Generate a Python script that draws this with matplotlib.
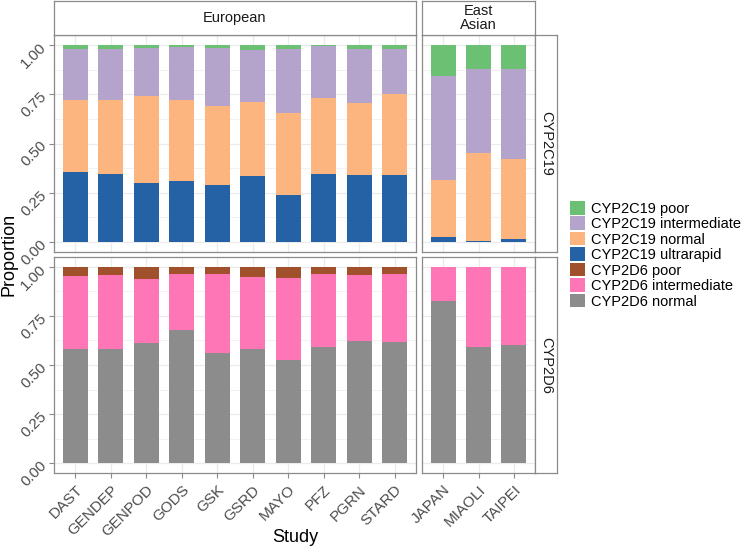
import matplotlib.pyplot as plt
import numpy as np
from matplotlib.patches import Patch

plt.rcParams["font.family"] = ["Liberation Sans", "DejaVu Sans"]

EUR_STUDIES = ["DAST", "GENDEP", "GENPOD", "GODS", "GSK", "GSRD", "MAYO", "PFZ", "PGRN", "STARD"]
EAS_STUDIES = ["JAPAN", "MIAOLI", "TAIPEI"]

# CYP2C19 proportions (European then East Asian)
C19_ULTRA = [0.355, 0.345, 0.302, 0.311, 0.289, 0.334, 0.238, 0.346, 0.340, 0.338, 0.025, 0.007, 0.014]
C19_NORMAL = [0.366, 0.376, 0.440, 0.407, 0.402, 0.377, 0.416, 0.387, 0.366, 0.414, 0.291, 0.447, 0.407]
C19_INTER = [0.259, 0.259, 0.244, 0.272, 0.295, 0.264, 0.327, 0.262, 0.272, 0.229, 0.525, 0.423, 0.459]
C19_POOR = [0.020, 0.020, 0.014, 0.010, 0.014, 0.025, 0.019, 0.005, 0.022, 0.019, 0.159, 0.123, 0.120]

# CYP2D6 proportions
D6_NORMAL = [0.581, 0.584, 0.611, 0.677, 0.561, 0.581, 0.527, 0.590, 0.622, 0.617, 0.824, 0.593, 0.603]
D6_INTER = [0.370, 0.374, 0.325, 0.284, 0.402, 0.368, 0.416, 0.373, 0.337, 0.346, 0.176, 0.407, 0.397]
D6_POOR = [0.049, 0.042, 0.064, 0.039, 0.037, 0.051, 0.057, 0.037, 0.041, 0.037, 0.0, 0.0, 0.0]

LABELS = ["CYP2C19 poor", "CYP2C19 intermediate", "CYP2C19 normal", "CYP2C19 ultrarapid",
          "CYP2D6 poor", "CYP2D6 intermediate", "CYP2D6 normal"]
COLORS = ["#6CC074", "#B4A3CB", "#FDB57F", "#2562A5", "#A0502B", "#FF76B6", "#8C8C8C"]

W, H = 742, 547
GRID = "#EBEBEB"
BORDER = "#8A8A8A"
TICKC = "#4D4D4D"


def rect(x0, y0, x1, y1):
    return [x0 / W, 1 - y1 / H, (x1 - x0) / W, (y1 - y0) / H]


def style_panel(ax, n, show_x, show_y, names):
    ax.set_xlim(-0.6, n - 0.4)
    ax.set_ylim(-0.05, 1.05)
    ax.set_axisbelow(True)
    ax.set_yticks([0, 0.25, 0.5, 0.75, 1.0])
    ax.set_yticks([0.125, 0.375, 0.625, 0.875], minor=True)
    ax.set_xticks(range(n))
    ax.grid(True, which="major", color=GRID, linewidth=0.9)
    ax.grid(True, which="minor", axis="y", color=GRID, linewidth=0.45)
    for s in ax.spines.values():
        s.set_color(BORDER)
        s.set_linewidth(0.9)
    ax.tick_params(which="minor", length=0)
    ax.tick_params(which="major", color=BORDER, length=3.5, labelsize=11, labelcolor=TICKC)
    if show_y:
        ax.set_yticklabels(["0.00", "0.25", "0.50", "0.75", "1.00"], rotation=45,
                           ha="right", va="center", rotation_mode="anchor")
    else:
        ax.tick_params(axis="y", which="major", length=0, labelleft=False)
    if show_x:
        ax.set_xticklabels(names, rotation=45, ha="right", va="top", rotation_mode="anchor")
    else:
        ax.tick_params(axis="x", which="major", length=0, labelbottom=False)


def strip(fig, r, text, vertical=False):
    ax = fig.add_axes(r)
    ax.set_xticks([])
    ax.set_yticks([])
    for s in ax.spines.values():
        s.set_color(BORDER)
        s.set_linewidth(0.9)
    ax.text(0.5, 0.5, text, ha="center", va="center", fontsize=10.5, color="#1A1A1A",
            rotation=-90 if vertical else 0, transform=ax.transAxes, linespacing=1.0)


def stack(ax, idx, layers, colors):
    x = np.arange(len(idx))
    bottom = np.zeros(len(idx))
    for vals, c in zip(layers, colors):
        v = np.array([vals[i] for i in idx])
        ax.bar(x, v, width=0.7, bottom=bottom, color=c, linewidth=0)
        bottom += v


fig = plt.figure(figsize=(W / 100, H / 100), dpi=100)

eur = list(range(len(EUR_STUDIES)))
eas = list(range(len(EUR_STUDIES), len(EUR_STUDIES) + len(EAS_STUDIES)))

c19_layers = [C19_ULTRA, C19_NORMAL, C19_INTER, C19_POOR]
c19_colors = [COLORS[3], COLORS[2], COLORS[1], COLORS[0]]
d6_layers = [D6_NORMAL, D6_INTER, D6_POOR]
d6_colors = [COLORS[6], COLORS[5], COLORS[4]]

ax_tl = fig.add_axes(rect(54, 35, 416, 252))
ax_tr = fig.add_axes(rect(422, 35, 535, 252))
ax_bl = fig.add_axes(rect(54, 257, 416, 473))
ax_br = fig.add_axes(rect(422, 257, 535, 473))

stack(ax_tl, eur, c19_layers, c19_colors)
stack(ax_tr, eas, c19_layers, c19_colors)
stack(ax_bl, eur, d6_layers, d6_colors)
stack(ax_br, eas, d6_layers, d6_colors)

style_panel(ax_tl, len(eur), False, True, EUR_STUDIES)
style_panel(ax_tr, len(eas), False, False, EAS_STUDIES)
style_panel(ax_bl, len(eur), True, True, EUR_STUDIES)
style_panel(ax_br, len(eas), True, False, EAS_STUDIES)

strip(fig, rect(54, 1, 416, 35), "European")
strip(fig, rect(422, 1, 535, 35), "East\nAsian")
strip(fig, rect(535, 35, 557, 252), "CYP2C19", vertical=True)
strip(fig, rect(535, 257, 557, 473), "CYP2D6", vertical=True)

fig.text(295 / W, 1 - 537 / H, "Study", ha="center", va="center", fontsize=13)
fig.text(9 / W, 1 - 254 / H, "Proportion", ha="center", va="center", fontsize=13, rotation=90)

handles = [Patch(facecolor=c, edgecolor="none") for c in COLORS]
fig.legend(handles, LABELS, loc="upper left", bbox_to_anchor=(570 / W, 1 - 201 / H),
           frameon=False, fontsize=10.5, handlelength=1.05, handleheight=1.05,
           labelspacing=0.05, handletextpad=0.4, borderaxespad=0, borderpad=0)

fig.savefig("out.png", dpi=100)
